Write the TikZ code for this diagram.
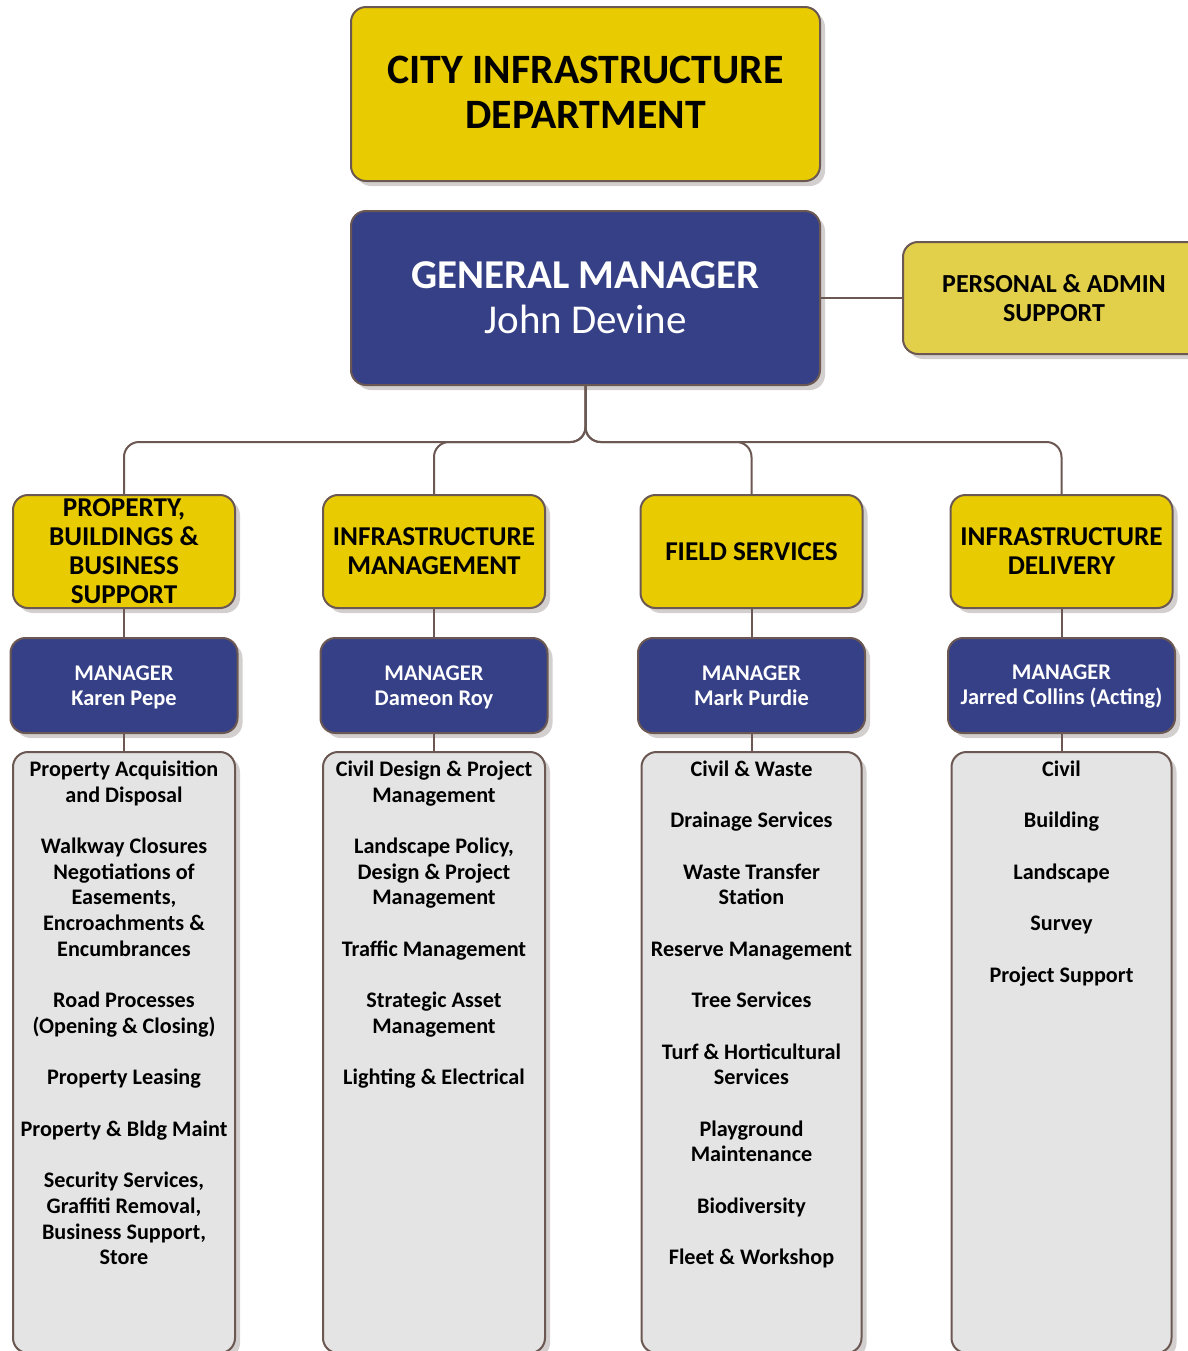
\documentclass[tikz,border=0pt]{standalone}
\usepackage{fontspec}
\setmainfont{Carlito}
\usetikzlibrary{shadows}
\definecolor{yel}{HTML}{E8CB00}
\definecolor{yeltwo}{HTML}{E2CF4A}
\definecolor{navy}{HTML}{364087}
\definecolor{greyf}{HTML}{E4E4E4}
\definecolor{edgec}{HTML}{6B5852}
\definecolor{shd}{HTML}{D3CFCE}
\newcommand\gp{\\[12.85pt]}
\newcommand\lowstrut{\rule[-1.75pt]{0pt}{1pt}}
\begin{document}
\begin{tikzpicture}[x=0.5pt,y=-0.5pt,
  box/.style={draw=edgec, line width=1pt, rounded corners=7.5pt, inner sep=0pt, align=center,
    general shadow={fill=shd, shadow xshift=2.5pt, shadow yshift=-2.5pt}},
  bigbox/.style={box, minimum width=234.5pt, minimum height=87pt},
  lvtwo/.style={box, fill=yel, minimum width=111pt, minimum height=56.5pt, font=\fontsize{13.6}{14.5}\selectfont\bfseries},
  mgr/.style={box, fill=navy, text=white, minimum width=113.5pt, minimum height=47.5pt, font=\fontsize{11.2}{12.5}\selectfont\bfseries},
  greybox/.style={box, fill=greyf, minimum width=111pt, minimum height=300.5pt},
  gtext/.style={inner sep=0pt, align=center, anchor=north, font=\fontsize{11.1}{12.85}\selectfont\bfseries},
  conn/.style={draw=edgec, line width=1pt, rounded corners=7.5pt}]
\useasboundingbox (0,0) rectangle (1188,1351);

\node[bigbox, fill=yel, font=\fontsize{20.9}{22.5}\selectfont\bfseries] (dept) at (585.5,94) {CITY INFRASTRUCTURE\\DEPARTMENT\rule[-2pt]{0pt}{1pt}};
\node[bigbox, fill=navy, text=white, font=\fontsize{20.5}{22.5}\selectfont] (gm) at (585.5,298) {\textbf{GENERAL MANAGER}\\John Devine};
\node[box, fill=yeltwo, minimum width=151pt, minimum height=56pt, font=\fontsize{13}{14.5}\selectfont\bfseries] (pa) at (1054,298) {PERSONAL \& ADMIN\\SUPPORT};

\node[lvtwo] (la) at (124,551.5) {PROPERTY,\\BUILDINGS \&\\BUSINESS\\SUPPORT};
\node[lvtwo] (lb) at (434,551.5) {INFRASTRUCTURE\\MANAGEMENT};
\node[lvtwo] (lc) at (751.5,551.5) {FIELD SERVICES};
\node[lvtwo] (ld) at (1061.5,551.5) {INFRASTRUCTURE\\DELIVERY};

\node[mgr] (ma) at (124,685.5) {\strut MANAGER\\Karen Pepe\lowstrut};
\node[mgr] (mb) at (434,685.5) {\strut MANAGER\\Dameon Roy\lowstrut};
\node[mgr] (mc) at (751.5,685.5) {\strut MANAGER\\Mark Purdie\lowstrut};
\node[mgr] (md) at (1061.5,685.5) {\strut MANAGER\\Jarred Collins (Acting)\lowstrut};

\node[greybox] (ga) at (124,1052.5) {};
\node[greybox] (gb) at (434,1052.5) {};
\node[greybox, minimum width=110pt] (gc) at (751.5,1052.5) {};
\node[greybox, minimum width=110pt] (gd) at (1061.5,1052.5) {};

\node[gtext] (ta) at ([yshift=-3.5pt]ga.north) {\strut Property Acquisition\\and Disposal\gp
Walkway Closures\\Negotiations of\\Easements,\\Encroachments \&\\Encumbrances\gp
Road Processes\\(Opening \& Closing)\gp
Property Leasing\gp
Property \& Bldg Maint\gp
Security Services,\\Graffiti Removal,\\Business Support,\\Store};
\node[gtext] (tb) at ([yshift=-3.5pt]gb.north) {\strut Civil Design \& Project\\Management\gp
Landscape Policy,\\Design \& Project\\Management\gp
Traffic Management\gp
Strategic Asset\\Management\gp
Lighting \& Electrical};
\node[gtext] (tc) at ([yshift=-3.5pt]gc.north) {\strut Civil \& Waste\gp
Drainage Services\gp
Waste Transfer\\Station\gp
Reserve Management\gp
Tree Services\gp
Turf \& Horticultural\\Services\gp
Playground\\Maintenance\gp
Biodiversity\gp
Fleet \& Workshop};
\node[gtext] (td) at ([yshift=-3.5pt]gd.north) {\strut Civil\gp
Building\gp
Landscape\gp
Survey\gp
Project Support};

\draw[conn] (gm.east) -- (pa.west);
\draw[conn] (gm.south) -- ++(0,56) -| (la.north);
\draw[conn] (gm.south) -- ++(0,56) -| (lb.north);
\draw[conn] (gm.south) -- ++(0,56) -| (lc.north);
\draw[conn] (gm.south) -- ++(0,56) -| (ld.north);
\foreach \c in {a,b,c,d}{
  \draw[conn] (l\c.south) -- (m\c.north);
  \draw[conn] (m\c.south) -- (g\c.north);
}
\end{tikzpicture}
\end{document}
